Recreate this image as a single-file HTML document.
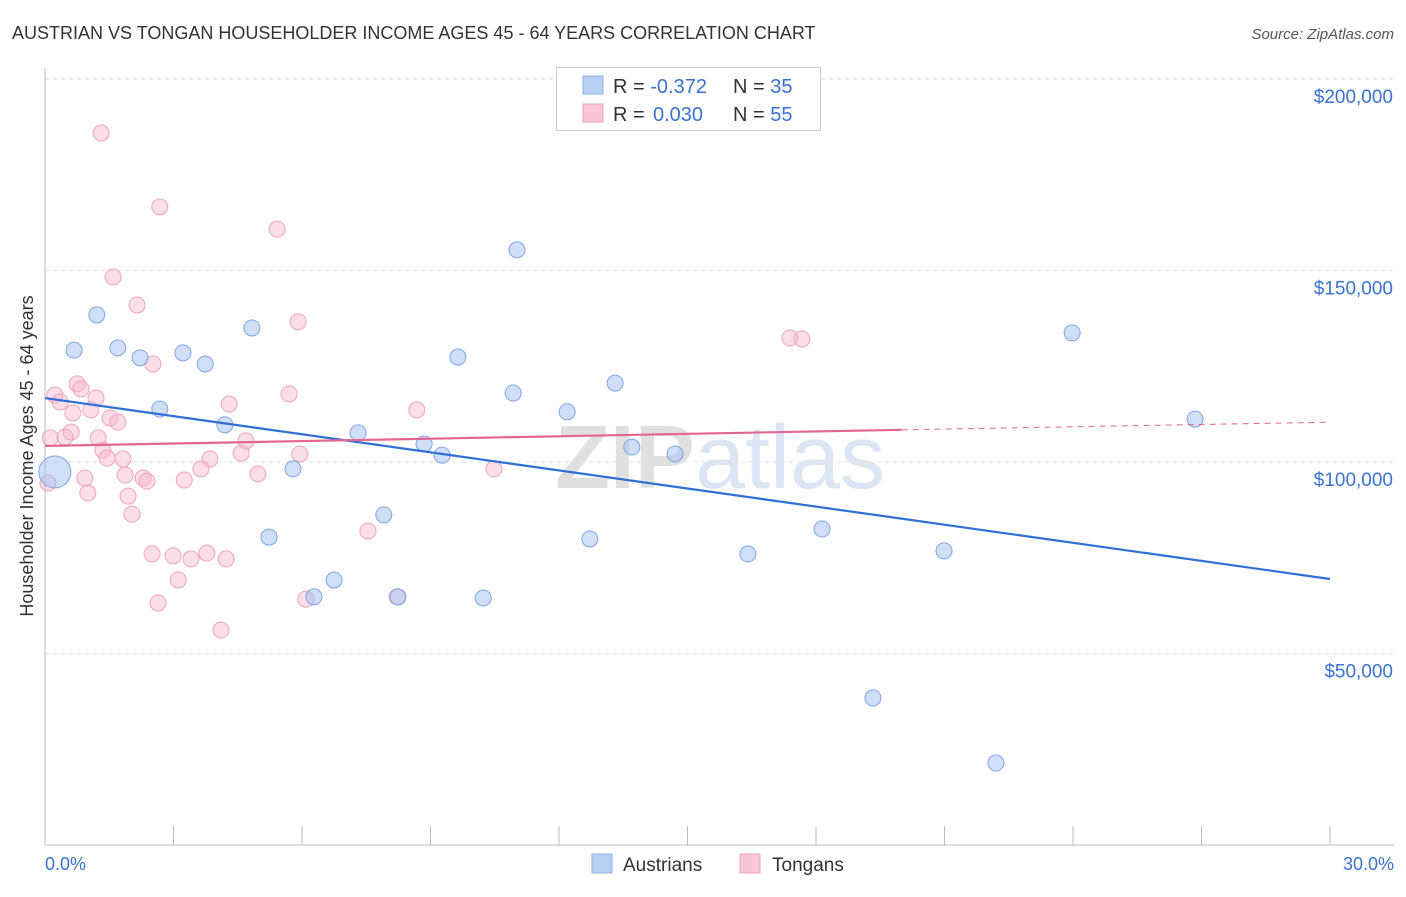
<!DOCTYPE html>
<html><head><meta charset="utf-8"><style>
body{margin:0;background:#fff;font-family:"Liberation Sans",sans-serif;}
svg text{font-family:"Liberation Sans",sans-serif;}
</style></head><body>
<svg id="c" width="1406" height="892" xmlns="http://www.w3.org/2000/svg">
<text x="12" y="39" font-size="18" fill="#333">AUSTRIAN VS TONGAN HOUSEHOLDER INCOME AGES 45 - 64 YEARS CORRELATION CHART</text>
<text x="1394" y="39" font-size="15" fill="#555" font-style="italic" text-anchor="end">Source: ZipAtlas.com</text>
<text x="720" y="488" font-size="90" fill="#e6e6e6" text-anchor="middle"><tspan font-weight="bold" fill="#e0e0e0">ZIP</tspan><tspan fill="#dbe5f4">atlas</tspan></text>
<g id="grid"></g><g id="pts"></g><g id="lines"></g>
<text x="33" y="456" font-size="18" fill="#333" text-anchor="middle" transform="rotate(-90 33 456)">Householder Income Ages 45 - 64 years</text>
<text x="45" y="870" font-size="18" fill="#3a72d0">0.0%</text>
<text x="1394" y="870" font-size="18" fill="#3a72d0" text-anchor="end">30.0%</text>
<g>
<rect x="556.5" y="67.5" width="264" height="63" fill="#fff" stroke="#ccc"/>
<rect x="583" y="76" width="20" height="18" fill="#b8d0f4" stroke="#8fb0e6"/>
<rect x="583" y="104" width="20" height="18" fill="#f9c6d6" stroke="#eea3bc"/>
<text x="613" y="93" font-size="20" fill="#333">R = <tspan fill="#3a72d0">-0.372</tspan><tspan x="733">N = </tspan><tspan fill="#3a72d0">35</tspan></text>
<text x="613" y="121" font-size="20" fill="#333">R = <tspan fill="#3a72d0" x="653">0.030</tspan><tspan x="733">N = </tspan><tspan fill="#3a72d0">55</tspan></text>
</g>
<g>
<rect x="592" y="854" width="20" height="19" fill="#b8d0f4" stroke="#8fb0e6"/>
<text x="623" y="871" font-size="19" fill="#333">Austrians</text>
<rect x="740" y="854" width="20" height="19" fill="#f9c6d6" stroke="#eea3bc"/>
<text x="772" y="871" font-size="19" fill="#333">Tongans</text>
</g>
</svg>
<script>
const yTicks=[50000,100000,150000,200000];
const yTickLabels=["$50,000","$100,000","$150,000","$200,000"];
const xTicks=[0,3,6,9,12,15,18,21,24,27,30];
const ausX=[0.23,1.21,0.68,1.70,2.22,2.68,3.22,3.74,4.20,4.83,5.23,5.79,6.28,6.75,7.31,7.91,8.24,8.85,9.27,9.64,10.23,10.93,11.02,12.19,12.72,13.31,13.70,14.71,16.41,18.14,19.33,20.99,22.20,23.98,26.85];
const ausY=[97400,138400,129200,129800,127200,113800,128500,125600,109700,135000,80400,98200,64800,69200,107600,86200,64800,104700,101800,127400,64500,118000,155400,113100,79900,120600,103900,102100,76000,82500,38400,76800,21400,133700,111200];
const tonX=[1.31,2.68,5.42,1.59,2.15,5.91,2.52,5.70,0.23,0.35,0.75,0.84,1.19,0.65,1.07,1.52,1.70,4.30,8.68,0.61,0.47,0.12,1.24,4.69,1.35,1.45,1.82,4.58,3.85,3.64,4.97,5.95,1.87,2.29,2.38,3.25,0.93,1.00,1.94,0.07,2.03,10.48,7.54,2.50,2.99,3.41,3.78,4.23,3.11,2.64,6.09,8.22,4.11,17.67,17.39];
const tonY=[185900,166600,160800,148300,141000,136600,125600,117800,117500,115700,120400,119100,116700,112800,113600,111500,110400,115100,113600,107800,106500,106300,106300,105500,103100,101000,100800,102300,100800,98200,96900,102100,96600,95800,95000,95300,95800,91900,91100,94500,86400,98200,82000,76000,75500,74700,76200,74700,69200,63200,64200,64800,56100,132100,132400];
const ausTrend=[[0,116700],[30,69450]];
const tonTrend=[[0,104200],[20,108400],[30,110400]];
const NS="http://www.w3.org/2000/svg";
const X=v=>45+v/30*1285, Y=v=>462-(v-100000)*191.5/50000;
function mk(t,a,p){const e=document.createElementNS(NS,t);for(const k in a)e.setAttribute(k,a[k]);document.getElementById(p).appendChild(e);return e;}
yTicks.forEach((t,i)=>{
 const l=mk('line',{x1:45,x2:1394,y1:Y(t),y2:Y(t),stroke:'#e4e4e4','stroke-dasharray':'4,4'},'grid');
 
 
 const tx=mk('text',{x:1393,y:Y(t)+24,'font-size':19,fill:'#3a72d0','text-anchor':'end'},'grid');
 tx.textContent=yTickLabels[i];
 
 
});
const topLine=mk('line',{x1:45,x2:1394,y1:78.5,y2:78.5,stroke:'#e4e4e4','stroke-dasharray':'4,4'},'grid');


const axX=mk('line',{x1:45,x2:1394,y1:845,y2:845,stroke:'#bbb'},'grid');


const axY=mk('line',{x1:45,x2:45,y1:68,y2:845,stroke:'#bbb'},'grid');


xTicks.forEach(t=>{const l=mk('line',{x1:X(t),x2:X(t),y1:826,y2:845,stroke:'#bbb'},'grid');
 
 });
tonX.forEach((x,i)=>{const c=mk('circle',{cx:X(x),cy:Y(tonY[i]),r:8,fill:'rgba(248,182,204,0.45)',stroke:'#eea3bc','stroke-width':1},'pts');
 
 });
ausX.forEach((x,i)=>{const c=mk('circle',{cx:X(x),cy:Y(ausY[i]),r:i==0?16:8,fill:'rgba(160,192,240,0.5)',stroke:'#7fa6e2','stroke-width':1},'pts');
 
 });
const bl=mk('line',{x1:X(ausTrend[0][0]),y1:Y(ausTrend[0][1]),x2:X(ausTrend[1][0]),y2:Y(ausTrend[1][1]),stroke:'#2f6fd6','stroke-width':2.2},'lines');


const pl=mk('line',{x1:X(tonTrend[0][0]),y1:Y(tonTrend[0][1]),x2:X(tonTrend[1][0]),y2:Y(tonTrend[1][1]),stroke:'#e2668e','stroke-width':2.2},'lines');


const pd=mk('line',{x1:X(tonTrend[1][0]),y1:Y(tonTrend[1][1]),x2:X(tonTrend[2][0]),y2:Y(tonTrend[2][1]),stroke:'#e2668e','stroke-width':1,'stroke-dasharray':'6,5'},'lines');


</script>
</body></html>
